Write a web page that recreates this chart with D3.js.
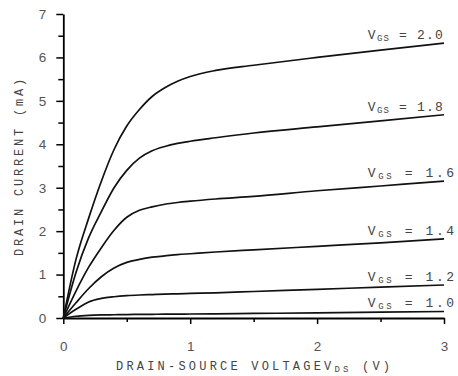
<!DOCTYPE html>
<html>
<head>
<meta charset="utf-8">
<script src="https://cdn.jsdelivr.net/npm/d3@7"></script>
<style>
  html, body { margin: 0; padding: 0; background: #fff; }
  svg { display: block; }
</style>
</head>
<body>
<div id="chart"></div>
<script>
// Drain voltage samples (V)
const vds = [0, 0.1, 0.2, 0.3, 0.4, 0.5, 0.6, 0.7, 0.8, 0.9, 1.0, 1.2, 1.5, 2.0, 2.5, 3.0];

// Gate voltages for each curve
const vgsLevels = ["1.0", "1.2", "1.4", "1.6", "1.8", "2.0"];

// Drain current (mA), one list per gate voltage
const id10 = [0, 0.04, 0.06, 0.07, 0.075, 0.08, 0.082, 0.085, 0.088, 0.09, 0.092, 0.097, 0.105, 0.118, 0.133, 0.15];
const id12 = [0, 0.2, 0.37, 0.45, 0.49, 0.515, 0.53, 0.54, 0.55, 0.557, 0.565, 0.58, 0.61, 0.66, 0.71, 0.76];
const id14 = [0, 0.35, 0.68, 0.95, 1.15, 1.28, 1.35, 1.4, 1.43, 1.46, 1.48, 1.52, 1.57, 1.65, 1.73, 1.82];
const id16 = [0, 0.62, 1.17, 1.62, 2.02, 2.32, 2.48, 2.56, 2.62, 2.66, 2.69, 2.74, 2.8, 2.93, 3.04, 3.15];
const id18 = [0, 1.05, 1.85, 2.45, 3.0, 3.4, 3.68, 3.85, 3.95, 4.02, 4.07, 4.15, 4.26, 4.4, 4.54, 4.68];
const id20 = [0, 1.35, 2.3, 3.15, 3.88, 4.42, 4.8, 5.1, 5.3, 5.45, 5.56, 5.7, 5.82, 6.0, 6.17, 6.33];
const currents = [id10, id12, id14, id16, id18, id20];

// Axis ticks
const xTicks = [0, 1, 2, 3];
const xMinorTicks = [0.5, 1.5, 2.5];
const yTicks = [0, 1, 2, 3, 4, 5, 6, 7];
const yMinorTicks = [0.5, 1.5, 2.5, 3.5, 4.5, 5.5, 6.5];

// Where the curve labels start (V)
const labelStart = 2.4;

const width = 458;
const height = 376;
const margin = {top: 14, right: 14, bottom: 58, left: 63};

const monoFont = "'Liberation Mono', 'Courier New', monospace";
const sansFont = "'Liberation Sans', Arial, sans-serif";

const svg = d3.select("#chart").append("svg")
  .attr("width", width)
  .attr("height", height);

const x = d3.scaleLinear()
  .domain([0, 3])
  .range([margin.left + 0.3, width - margin.right]);
const y = d3.scaleLinear()
  .domain([0, 7])
  .range([height - margin.bottom, margin.top]);

// Minor ticks first so the main axes sit on top
svg.append("g")
  .attr("transform", `translate(0,${y(0)})`)
  .call(d3.axisBottom(x).tickValues(xMinorTicks).tickSize(4).tickFormat(""))
  .call(g => g.select(".domain").remove())
  .call(g => g.selectAll("line").attr("stroke-width", 1.5));
svg.append("g")
  .attr("transform", `translate(${x(0)},0)`)
  .call(d3.axisLeft(y).tickValues(yMinorTicks).tickSize(5).tickFormat(""))
  .call(g => g.select(".domain").remove())
  .call(g => g.selectAll("line").attr("stroke-width", 1.5));

// X axis
svg.append("g")
  .attr("transform", `translate(0,${y(0)})`)
  .call(d3.axisBottom(x).tickValues(xTicks).tickSize(6).tickSizeOuter(0).tickPadding(17).tickFormat(d3.format("d")))
  .call(g => g.select(".domain").attr("stroke-width", 1.8))
  .call(g => g.selectAll("line").attr("stroke-width", 1.5))
  .call(g => g.selectAll("text")
    .attr("font-family", sansFont)
    .attr("font-size", 13.5)
    .attr("fill", "#555"));

// Y axis
svg.append("g")
  .attr("transform", `translate(${x(0)},0)`)
  .call(d3.axisLeft(y).tickValues(yTicks).tickSize(7).tickSizeOuter(0).tickPadding(10).tickFormat(d3.format("d")))
  .call(g => g.select(".domain").attr("stroke-width", 1.8))
  .call(g => g.selectAll("line").attr("stroke-width", 1.5))
  .call(g => g.selectAll("text")
    .attr("font-family", sansFont)
    .attr("font-size", 13.5)
    .attr("fill", "#555"));

// Curves
const line = d3.line()
  .x((d, i) => x(vds[i]))
  .y(d => y(d))
  .curve(d3.curveMonotoneX);

svg.append("g")
  .selectAll("path")
  .data(currents)
  .join("path")
    .attr("fill", "none")
    .attr("stroke", "#111")
    .attr("stroke-width", 1.7)
    .attr("stroke-linejoin", "round")
    .attr("d", line);

// Curve labels: V_GS = ...
const labels = svg.append("g")
  .attr("font-family", monoFont)
  .attr("fill", "#444")
  .selectAll("text")
  .data(vgsLevels)
  .join("text")
    .attr("x", x(labelStart))
    .attr("y", (d, i) => y(currents[i][currents[i].length - 1]) - 4)
    .attr("letter-spacing", (d, i) => i >= 4 ? 1.2 : 2.6);
labels.append("tspan").attr("font-size", 13).text("V");
labels.append("tspan").attr("font-size", 9).attr("dy", 2).text("GS");
labels.append("tspan").attr("font-size", 13).attr("dy", -2).text(d => ` = ${d}`);

// X title
const xTitle = svg.append("text")
  .attr("x", (x(0) + x(3)) / 2 + 1)
  .attr("y", 370)
  .attr("text-anchor", "middle")
  .attr("font-family", monoFont)
  .attr("font-size", 12)
  .attr("letter-spacing", 3.2)
  .attr("fill", "#444");
xTitle.append("tspan").text("DRAIN-SOURCE VOLTAGEV");
xTitle.append("tspan").attr("font-size", 9).attr("dy", 2).text("DS");
xTitle.append("tspan").attr("dy", -2).text(" (V)");

// Y title
svg.append("text")
  .attr("transform", `translate(23,${(y(0) + y(7)) / 2}) rotate(-90)`)
  .attr("text-anchor", "middle")
  .attr("font-family", monoFont)
  .attr("font-size", 12)
  .attr("letter-spacing", 2.8)
  .attr("fill", "#444")
  .text("DRAIN CURRENT (mA)");
</script>
</body>
</html>
